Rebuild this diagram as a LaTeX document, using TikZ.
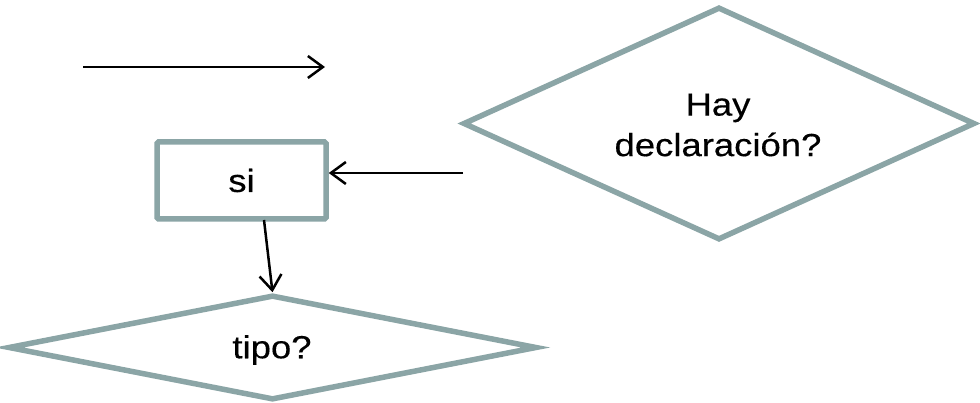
\documentclass[tikz,border=0pt]{standalone}
\usepackage{fontspec}
\setmainfont[FakeStretch=1.14,FakeBold=0.4]{Liberation Sans}
\usetikzlibrary{shapes.geometric,arrows.meta}
\definecolor{boxline}{HTML}{8BA5A6}
\tikzset{
  shapeline/.style={draw=boxline, line width=5.5pt, fill=white, inner sep=0pt},
  decision/.style={shapeline, diamond},
  procbox/.style={shapeline, rectangle, rounded corners=1.5pt, font=\fontsize{32}{40}\selectfont},
  label text/.style={inner sep=0pt, font=\fontsize{32}{40.5}\selectfont, align=center},
  conn/.style={draw=black, line width=2.5pt, -{Straight Barb[length=15pt,width=22pt,line width=2.5pt]}}
}
\begin{document}
\begin{tikzpicture}[x=1pt,y=-1pt]
\useasboundingbox (0,0) rectangle (980,403);
\node[decision, minimum width=512pt, minimum height=233pt] (hay) at (719,123.5) {};
\node[label text] (haytext) at (718,125) {Hay\\declaración?};
\node[procbox, minimum width=169pt, minimum height=77pt] (si) at (241.5,180.5) {si};
\node[decision, minimum width=529pt, minimum height=105pt] (tipo) at (272.5,347.5) {};
\node[label text] (tipotext) at (272,350) {tipo?};
\coordinate (a1s) at (83,67);
\coordinate (a1e) at (325,67);
\coordinate (a2s) at (463,173);
\coordinate (a3s) at (264,220);
\draw[conn] (a1s) -- (a1e);
\draw[conn] (a2s) -- (si.east |- a2s);
\draw[conn] (a3s) -- (tipo.north);
\end{tikzpicture}
\end{document}
